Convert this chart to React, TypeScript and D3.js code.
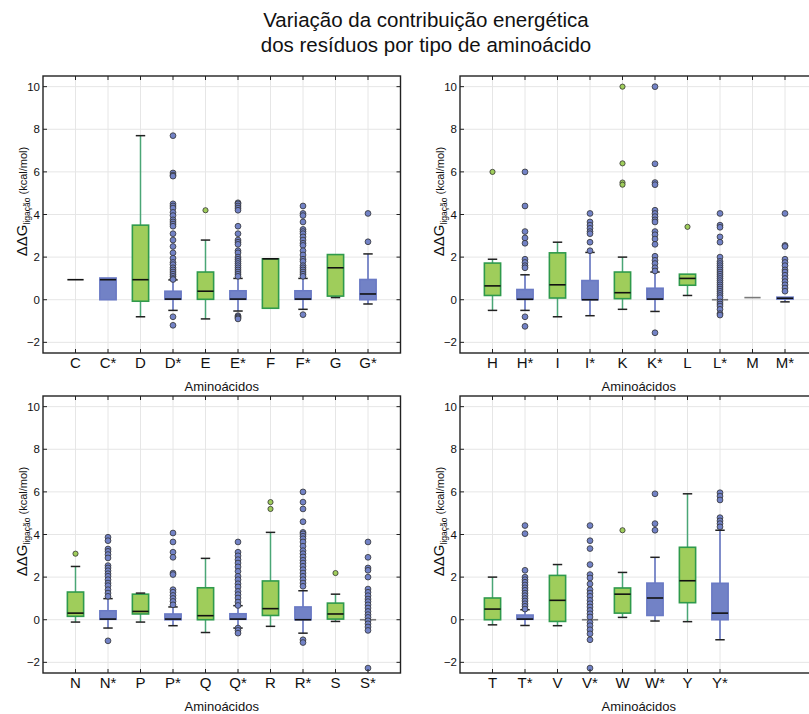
import React from "react";
import * as d3 from "d3";

// ---------- DATA ----------
const cats1 = ["C", "C*", "D", "D*", "E", "E*", "F", "F*", "G", "G*"];
const lo1 = [0.94, 0.0, -0.8, -0.5, -0.9, -0.53, -0.4, -0.45, 0.1, -0.2];
const q1_1 = [0.94, 0.0, -0.07, 0.02, 0.02, 0.02, -0.4, 0.02, 0.17, 0.0];
const med1 = [0.94, 0.94, 0.94, 0.03, 0.4, 0.03, 1.92, 0.03, 1.5, 0.27];
const q3_1 = [0.94, 1.02, 3.5, 0.4, 1.3, 0.42, 1.92, 0.42, 2.12, 0.95];
const hi1 = [0.94, 1.02, 7.7, 0.93, 2.8, 1.0, 1.92, 1.0, 2.12, 2.15];
const out1 = [
  [],
  [],
  [],
  [7.7, 5.95, 5.85, 5.8, 4.5, 4.4, 4.3, 4.1, 3.95, 3.75, 3.65, 3.55, 3.45, 3.1, 2.8, 2.5, 2.2, 1.95, 1.75, 1.65, 1.5, 1.4, 1.3, 1.2, 1.1, 1.0, 0.95, -0.8, -1.2],
  [4.2],
  [4.55, 4.5, 4.4, 4.3, 4.2, 3.45, 3.1, 2.8, 2.7, 2.6, 2.3, 2.2, 2.0, 1.9, 1.8, 1.7, 1.6, 1.5, 1.4, 1.3, 1.2, 1.1, -0.75, -0.8, -0.85, -0.9],
  [],
  [4.4, 4.05, 3.95, 3.65, 3.3, 3.2, 3.1, 2.95, 2.8, 2.65, 2.55, 2.3, 2.1, 1.9, 1.8, 1.6, 1.5, 1.4, 1.3, 1.2, 1.1, -0.7],
  [],
  [4.05, 2.72],
];

const cats2 = ["H", "H*", "I", "I*", "K", "K*", "L", "L*", "M", "M*"];
const lo2 = [-0.5, -0.5, -0.8, -0.75, -0.45, -0.55, 0.2, 0.0, 0.1, -0.1];
const q1_2 = [0.2, 0.02, 0.08, 0.0, 0.05, 0.02, 0.68, 0.0, 0.1, 0.03];
const med2 = [0.65, 0.02, 0.7, 0.0, 0.33, 0.03, 1.0, 0.0, 0.1, 0.07];
const q3_2 = [1.72, 0.48, 2.2, 0.9, 1.3, 0.54, 1.2, 0.0, 0.1, 0.12];
const hi2 = [1.9, 1.17, 2.7, 2.22, 2.0, 1.3, 1.2, 0.0, 0.1, 0.12];
const out2 = [
  [6.0],
  [6.0, 4.4, 3.2, 2.9, 2.65, 1.9, 1.75, 1.6, 1.5, -0.8, -1.25],
  [],
  [4.05, 3.65, 3.5, 3.35, 3.2, 3.1, 2.7, 2.3],
  [10.0, 6.4, 5.5, 5.4],
  [10.0, 6.38, 5.5, 5.4, 4.2, 4.05, 3.9, 3.75, 3.65, 3.2, 3.05, 2.85, 2.6, 2.04, 1.85, 1.7, 1.5, 1.35, -1.55],
  [3.42],
  [4.05, 3.5, 3.4, 2.95, 2.7, 2.0, 1.8, 1.7, 1.6, 1.5, 1.4, 1.3, 1.2, 1.1, 1.0, 0.9, 0.8, 0.7, 0.6, 0.5, 0.4, 0.3, 0.2, 0.1, -0.1, -0.2, -0.3, -0.45, -0.65, -0.72],
  [],
  [4.05, 2.55, 2.5, 1.9, 1.75, 1.6, 1.4, 1.3, 1.15, 1.0, 0.85, 0.7, 0.55, 0.4],
];

const cats3 = ["N", "N*", "P", "P*", "Q", "Q*", "R", "R*", "S", "S*"];
const lo3 = [-0.11, -0.39, -0.11, -0.28, -0.6, -0.39, -0.31, -0.63, -0.08, 0.0];
const q1_3 = [0.16, 0.02, 0.27, 0.0, 0.0, 0.02, 0.2, 0.0, 0.03, 0.0];
const med3 = [0.31, 0.03, 0.39, 0.03, 0.19, 0.03, 0.52, 0.0, 0.27, 0.0];
const q3_3 = [1.3, 0.42, 1.2, 0.27, 1.5, 0.28, 1.82, 0.6, 0.78, 0.0];
const hi3 = [2.5, 0.99, 1.25, 0.6, 2.88, 0.66, 4.1, 1.36, 1.2, 0.0];
const out3 = [
  [3.1],
  [3.87, 3.71, 3.32, 3.21, 3.06, 2.9, 2.54, 2.43, 2.3, 2.16, 2.04, 1.88, 1.72, 1.6, 1.41, 1.25, 1.1, -0.99],
  [],
  [4.07, 3.65, 3.17, 2.93, 2.19, 2.12, 1.41, 1.29, 1.14, 1.0, 0.86, 0.7],
  [],
  [3.65, 3.17, 3.0, 2.82, 2.66, 2.48, 2.27, 2.04, 1.88, 1.69, 1.54, 1.33, 1.18, 1.02, 0.83, 0.67, -0.39, -0.5, -0.63],
  [5.52, 5.2],
  [6.0, 5.52, 5.2, 4.6, 4.1, 4.03, 3.92, 3.8, 3.65, 3.45, 3.24, 3.1, 2.95, 2.79, 2.66, 2.51, 2.35, 2.19, 2.04, 1.88, 1.72, 1.57, -0.94, -1.07],
  [2.19],
  [3.65, 2.93, 2.43, 2.32, 2.0, 1.44, 1.29, 1.13, 0.97, 0.85, 0.7, 0.55, 0.39, 0.24, 0.11, -0.05, -0.19, -0.34, -0.5, -2.27],
];

const cats4 = ["T", "T*", "V", "V*", "W", "W*", "Y", "Y*"];
const lo4 = [-0.24, -0.27, -0.28, 0.0, 0.11, -0.06, -0.09, -0.94];
const q1_4 = [0.0, 0.02, -0.08, 0.0, 0.31, 0.2, 0.8, 0.0];
const med4 = [0.5, 0.03, 0.91, 0.0, 1.2, 1.02, 1.83, 0.31];
const q3_4 = [1.02, 0.22, 2.08, 0.0, 1.49, 1.72, 3.4, 1.71];
const hi4 = [2.0, 0.47, 2.59, 0.0, 2.22, 2.93, 5.91, 4.2];
const out4 = [
  [],
  [4.42, 4.04, 2.32, 2.0, 1.88, 1.76, 1.63, 1.5, 1.38, 1.25, 1.13, 1.0, 0.88, 0.75, 0.63, 0.5],
  [],
  [4.42, 3.71, 3.34, 2.59, 2.12, 1.96, 1.68, 1.41, 1.25, 1.1, 0.91, 0.75, 0.6, 0.44, 0.28, 0.13, -0.13, -0.28, -0.47, -0.66, -0.94, -2.27],
  [4.2],
  [5.91, 4.51, 4.2],
  [],
  [5.96, 5.8, 5.62, 4.79, 4.64, 4.51, 4.36],
];

const yTicks = [-2, 0, 2, 4, 6, 8, 10];
const titleLines = ["Variação da contribuição energética", "dos resíduos por tipo de aminoácido"];
const xLabel = "Aminoácidos";

// ---------- STYLE ----------
const FONT = "'Liberation Sans', Arial, sans-serif";
const GREEN_FILL = "#9fcd5b";
const GREEN_EDGE = "#2f9a4c";
const GREEN_WHISK = "#4aa676";
const BLUE_FILL = "#7282c6";
const BLUE_EDGE = "#6a7ac4";
const BLUE_WHISK = "#5a6bbd";

type PanelProps = {
  left: number; top: number; right: number; bottom: number;
  cats: string[]; lo: number[]; q1: number[]; med: number[]; q3: number[]; hi: number[]; out: number[][];
};

function Panel(p: PanelProps) {
  const x = d3.scaleLinear().domain([0, 11]).range([p.left, p.right]);
  const y = d3.scaleLinear().domain([-2.5, 10.5]).range([p.bottom, p.top]);
  const unit = x(1) - x(0);
  const bw = 0.5 * unit;
  const cw = 0.29 * unit;
  const tick = 4;
  const midY = (p.top + p.bottom) / 2 - 13;
  const midX = (p.left + p.right) / 2;
  return (
    <g>
      {/* grid */}
      {yTicks.map((t) => (
        <line key={"gy" + t} x1={p.left} x2={p.right} y1={y(t)} y2={y(t)} stroke="#e6e6e6" strokeWidth={1} />
      ))}
      {p.cats.map((c, i) => (
        <line key={"gx" + c} x1={x(i + 1)} x2={x(i + 1)} y1={p.top} y2={p.bottom} stroke="#e6e6e6" strokeWidth={1} />
      ))}
      {/* boxes */}
      {p.cats.map((c, i) => {
        const star = c.includes("*");
        const fill = star ? BLUE_FILL : GREEN_FILL;
        const edge = star ? BLUE_EDGE : GREEN_EDGE;
        const wc = star ? BLUE_WHISK : GREEN_WHISK;
        const cx = x(i + 1);
        const yq1 = y(p.q1[i]);
        const yq3 = y(p.q3[i]);
        const degenerate = p.q3[i] - p.q1[i] < 0.001;
        return (
          <g key={"b" + c}>
            {p.hi[i] > p.q3[i] && (
              <line x1={cx} x2={cx} y1={yq3} y2={y(p.hi[i])} stroke={wc} strokeWidth={1.5} />
            )}
            {p.lo[i] < p.q1[i] && (
              <line x1={cx} x2={cx} y1={yq1} y2={y(p.lo[i])} stroke={wc} strokeWidth={1.5} />
            )}
            {!degenerate && (
              <rect x={cx - bw / 2} y={yq3} width={bw} height={yq1 - yq3} fill={fill} stroke={edge} strokeWidth={1.6} />
            )}
            {p.hi[i] > p.q3[i] && (
              <line x1={cx - cw / 2} x2={cx + cw / 2} y1={y(p.hi[i])} y2={y(p.hi[i])} stroke="#222" strokeWidth={1.5} />
            )}
            {p.lo[i] < p.q1[i] && (
              <line x1={cx - cw / 2} x2={cx + cw / 2} y1={y(p.lo[i])} y2={y(p.lo[i])} stroke="#222" strokeWidth={1.5} />
            )}
            <line
              x1={cx - bw / 2} x2={cx + bw / 2} y1={y(p.med[i])} y2={y(p.med[i])}
              stroke={degenerate && c !== "C" ? "#7a7a7a" : "#111"} strokeWidth={1.6}
            />
            {p.out[i].map((v, k) => (
              <circle key={k} cx={cx} cy={y(v)} r={star ? 2.9 : 2.6} fill={fill} stroke="#333" strokeWidth={0.8} />
            ))}
          </g>
        );
      })}
      {/* frame */}
      <rect x={p.left} y={p.top} width={p.right - p.left} height={p.bottom - p.top} fill="none" stroke="#222" strokeWidth={1.4} />
      {/* ticks */}
      {yTicks.map((t) => (
        <g key={"ty" + t}>
          <line x1={p.left} x2={p.left + tick} y1={y(t)} y2={y(t)} stroke="#222" strokeWidth={1} />
          <line x1={p.right} x2={p.right - tick} y1={y(t)} y2={y(t)} stroke="#222" strokeWidth={1} />
          <text x={p.left - 3} y={y(t)} dy="0.35em" textAnchor="end" fontSize={11.5} fontFamily={FONT} fill="#111">
            {t < 0 ? "\u2212" + Math.abs(t) : String(t)}
          </text>
        </g>
      ))}
      {p.cats.map((c, i) => (
        <g key={"tx" + c}>
          <line x1={x(i + 1)} x2={x(i + 1)} y1={p.bottom} y2={p.bottom - tick} stroke="#222" strokeWidth={1} />
          <line x1={x(i + 1)} x2={x(i + 1)} y1={p.top} y2={p.top + tick} stroke="#222" strokeWidth={1} />
          <text x={x(i + 1)} y={p.bottom + 15} textAnchor="middle" fontSize={15} fontFamily={FONT} fill="#111">
            {c}
          </text>
        </g>
      ))}
      <text x={midX} y={p.bottom + 38} textAnchor="middle" fontSize={13} fontFamily={FONT} fill="#111">
        {xLabel}
      </text>
      <text transform={`translate(${p.left - 16},${midY}) rotate(-90)`} textAnchor="middle" fontFamily={FONT} fill="#111">
        <tspan fontSize={15}>ΔΔG</tspan>
        <tspan fontSize={8.5} dy={3}>ligação</tspan>
        <tspan fontSize={11} dy={-3}> (kcal/mol)</tspan>
      </text>
    </g>
  );
}

export default function App() {
  const W = 809;
  const H = 714;
  const L1 = 43, R1 = 400.5, L2 = 460, R2 = 817.5;
  const T1 = 76, B1 = 353, T2 = 396, B2 = 673;
  return (
    <svg width={W} height={H} style={{ position: "absolute", left: 0, top: 0, background: "#fff" }}>
      <rect x={0} y={0} width={W} height={H} fill="#fff" />
      {titleLines.map((s, i) => (
        <text key={i} x={426} y={27 + i * 25} textAnchor="middle" fontSize={20.5} fontFamily={FONT} fill="#111">
          {s}
        </text>
      ))}
      <Panel left={L1} right={R1} top={T1} bottom={B1} cats={cats1} lo={lo1} q1={q1_1} med={med1} q3={q3_1} hi={hi1} out={out1} />
      <Panel left={L2} right={R2} top={T1} bottom={B1} cats={cats2} lo={lo2} q1={q1_2} med={med2} q3={q3_2} hi={hi2} out={out2} />
      <Panel left={L1} right={R1} top={T2} bottom={B2} cats={cats3} lo={lo3} q1={q1_3} med={med3} q3={q3_3} hi={hi3} out={out3} />
      <Panel left={L2} right={R2} top={T2} bottom={B2} cats={cats4} lo={lo4} q1={q1_4} med={med4} q3={q3_4} hi={hi4} out={out4} />
    </svg>
  );
}
